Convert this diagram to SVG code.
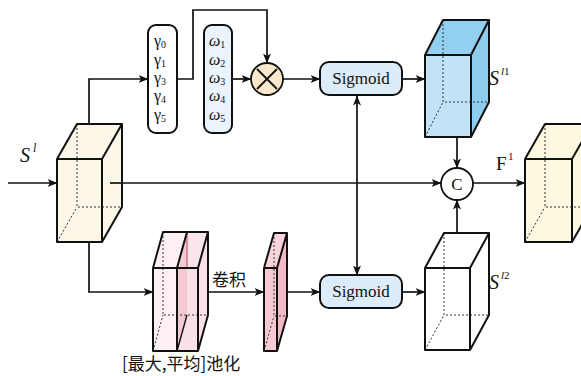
<svg xmlns="http://www.w3.org/2000/svg" width="581" height="376" viewBox="0 0 581 376">
  <defs>
    <marker id="arr" viewBox="0 0 10 8" refX="9.5" refY="4" markerWidth="10" markerHeight="8" markerUnits="userSpaceOnUse" orient="auto-start-reverse">
      <path d="M0,0 L10,4 L0,8 L2.5,4 Z" fill="#111"/>
    </marker>
    <style>
      .ln { fill: none; stroke: #111; stroke-width: 1.7; }
      .edge { fill: none; stroke: #111; stroke-width: 2; stroke-linejoin: round; }
      .hid { fill: none; stroke: #333; stroke-width: 1; stroke-dasharray: 2 2; }
      .box { stroke: #111; stroke-width: 2; }
      .sub { font-size: 10px; }
    </style>
  </defs>

  <rect width="581" height="376" fill="#ffffff"/>

  <!-- connectors -->
  <g id="connectors">
    <line class="ln" x1="8" y1="183" x2="57" y2="183" marker-end="url(#arr)"/>
    <line class="ln" x1="110" y1="183" x2="441" y2="183" marker-end="url(#arr)"/>
    <polyline class="ln" points="89,124 89,79 148,79" marker-end="url(#arr)"/>
    <polyline class="ln" points="89,242 89,292 153,292" marker-end="url(#arr)"/>
    <polyline class="ln" points="177,79 193,79 193,10 267,10 267,63" marker-end="url(#arr)"/>
    <line class="ln" x1="232" y1="79" x2="251" y2="79" marker-end="url(#arr)"/>
    <line class="ln" x1="283" y1="79" x2="320" y2="79" marker-end="url(#arr)"/>
    <line class="ln" x1="402" y1="79" x2="425" y2="79" marker-end="url(#arr)"/>
    <line class="ln" x1="357" y1="96" x2="357" y2="275" marker-start="url(#arr)" marker-end="url(#arr)"/>
    <line class="ln" x1="457" y1="137" x2="457" y2="168" marker-end="url(#arr)"/>
    <line class="ln" x1="457" y1="233" x2="457" y2="200" marker-end="url(#arr)"/>
    <line class="ln" x1="473" y1="183" x2="525" y2="183" marker-end="url(#arr)"/>
    <line class="ln" x1="198" y1="292" x2="264" y2="292" marker-end="url(#arr)"/>
    <line class="ln" x1="277" y1="292" x2="320" y2="292" marker-end="url(#arr)"/>
    <line class="ln" x1="402" y1="292" x2="425" y2="292" marker-end="url(#arr)"/>
  </g>

  <!-- input feature map -->
  <g id="input-cube">
    <rect x="57" y="159" width="45" height="83" fill="#fdf7ea"/>
    <polygon points="57,159 77,124 122,124 102,159" fill="#fdf7ea"/>
    <polygon points="102,159 122,124 122,207 102,242" fill="#fdf7ea"/>
    <path class="hid" d="M77,124 V207 H122 M57,242 L77,207"/>
    <path class="edge" d="M57,159 H102 V242 H57 Z M57,159 L77,124 H122 L102,159 M122,124 V207 L102,242"/>
    <line class="ln" x1="110" y1="183" x2="122" y2="183"/>
  </g>
  <g id="label-input" font-family="Liberation Serif, serif" fill="#111" font-style="italic">
    <text x="20" y="162" font-size="20">S</text>
    <text x="33" y="152" font-size="12">l</text>
  </g>

  <!-- gamma coefficients -->
  <g id="gamma-box">
    <rect class="box" x="148" y="25" width="29" height="108" rx="8" fill="#ffffff"/>
    <g font-family="Liberation Serif, serif" fill="#111" font-size="16">
      <text x="154" y="46">γ<tspan class="sub" dy="2">0</tspan></text>
      <text x="154" y="65">γ<tspan class="sub" dy="2">1</tspan></text>
      <text x="154" y="83">γ<tspan class="sub" dy="2">3</tspan></text>
      <text x="154" y="101">γ<tspan class="sub" dy="2">4</tspan></text>
      <text x="154" y="120">γ<tspan class="sub" dy="2">5</tspan></text>
    </g>
  </g>

  <!-- omega weights -->
  <g id="omega-box">
    <rect class="box" x="204" y="25" width="28" height="108" rx="8" fill="#ebf4fc"/>
    <g font-family="Liberation Serif, serif" fill="#111" font-size="16" font-style="italic">
      <text x="209" y="46">ω<tspan class="sub" dy="2" font-style="normal">1</tspan></text>
      <text x="209" y="65">ω<tspan class="sub" dy="2" font-style="normal">2</tspan></text>
      <text x="209" y="83">ω<tspan class="sub" dy="2" font-style="normal">3</tspan></text>
      <text x="209" y="101">ω<tspan class="sub" dy="2" font-style="normal">4</tspan></text>
      <text x="209" y="120">ω<tspan class="sub" dy="2" font-style="normal">5</tspan></text>
    </g>
  </g>

  <!-- multiplication -->
  <g id="multiply">
    <circle cx="267" cy="79" r="16" fill="#fbe8cc" stroke="#111" stroke-width="1.8"/>
    <path d="M257,69 L277,89 M277,69 L257,89" stroke="#111" stroke-width="1.8"/>
  </g>

  <!-- sigmoid blocks -->
  <g id="sigmoid-top">
    <rect class="box" x="320" y="62" width="82" height="33" rx="9" fill="#ddecf9"/>
    <text x="361" y="84" font-family="Liberation Serif, serif" fill="#111" font-size="17" text-anchor="middle">Sigmoid</text>
  </g>
  <g id="sigmoid-bottom">
    <rect class="box" x="320" y="275" width="82" height="33" rx="9" fill="#ddecf9"/>
    <text x="361" y="297" font-family="Liberation Serif, serif" fill="#111" font-size="17" text-anchor="middle">Sigmoid</text>
  </g>

  <!-- channel-weighted map -->
  <g id="cube-s1">
    <rect x="425" y="55" width="46" height="82" fill="#c2e2f7"/>
    <polygon points="425,55 443,20 489,20 471,55" fill="#93cff1"/>
    <polygon points="471,55 489,20 489,102 471,137" fill="#8ecdf0"/>
    <path class="hid" d="M443,20 V102 H489 M425,137 L443,102"/>
    <path class="edge" d="M425,55 H471 V137 H425 Z M425,55 L443,20 H489 L471,55 M489,20 V102 L471,137"/>
  </g>
  <g id="label-s1" font-family="Liberation Serif, serif" fill="#111" font-style="italic">
    <text x="489" y="85" font-size="20">S</text>
    <text x="501" y="75" font-size="11">l<tspan font-style="normal">1</tspan></text>
  </g>

  <!-- spatially weighted map -->
  <g id="cube-s2">
    <rect x="425" y="268" width="45" height="82" fill="#ffffff"/>
    <polygon points="425,268 444,233 489,233 470,268" fill="#ffffff"/>
    <polygon points="470,268 489,233 489,315 470,350" fill="#ffffff"/>
    <path class="hid" d="M444,233 V315 H489 M425,350 L444,315"/>
    <path class="edge" d="M425,268 H470 V350 H425 Z M425,268 L444,233 H489 L470,268 M489,233 V315 L470,350"/>
  </g>
  <g id="label-s2" font-family="Liberation Serif, serif" fill="#111" font-style="italic">
    <text x="489" y="289" font-size="20">S</text>
    <text x="501" y="279" font-size="11">l<tspan font-style="normal">2</tspan></text>
  </g>

  <!-- concatenation -->
  <g id="concat">
    <circle cx="457" cy="184" r="16" fill="#ffffff" stroke="#111" stroke-width="1.8"/>
    <text x="457" y="190" font-family="Liberation Serif, serif" fill="#111" font-size="17" text-anchor="middle">C</text>
  </g>

  <!-- output feature map -->
  <g id="output-cube">
    <rect x="525" y="159" width="47" height="83" fill="#fdf9e0"/>
    <polygon points="525,159 545,124 592,124 572,159" fill="#fdf9e0"/>
    <polygon points="572,159 592,124 592,207 572,242" fill="#fdf9e0"/>
    <path class="hid" d="M545,124 V207 H592 M525,242 L545,207"/>
    <path class="edge" d="M525,159 H572 V242 H525 Z M525,159 L545,124 H592 L572,159 M592,124 V207 L572,242"/>
  </g>
  <g id="label-f1" font-family="Liberation Serif, serif" fill="#111">
    <text x="496" y="170" font-size="19">F</text>
    <text x="508" y="160" font-size="11">1</text>
  </g>

  <!-- max / average pooling maps -->
  <g id="pooling">
    <rect x="153" y="268" width="24" height="83" fill="#fdf0f3"/>
    <polygon points="153,268 163,232 187,232 177,268" fill="#fdf0f3"/>
    <rect x="177" y="268" width="21" height="83" fill="#fae0e7"/>
    <polygon points="177,268 187,232 208,232 198,268" fill="#fbe4ea"/>
    <polygon points="198,268 208,232 208,315 198,351" fill="#fae0e7"/>
    <polygon points="177,268 187,232 187,315 177,351" fill="#f4c3d0" opacity="0.8"/>
    <path class="hid" d="M163,232 V315 H208 M153,351 L163,315"/>
    <path d="M187,232 V268" stroke="#c0405a" stroke-width="1"/>
    <path d="M177,351 L187,315" stroke="#111" stroke-width="1.4"/>
    <path class="edge" d="M153,268 H198 V351 H153 Z M153,268 L163,232 H208 L198,268 M208,232 V315 L198,351 M177,268 V351 M177,268 L187,232"/>
  </g>
  <g id="label-pooling">
    <text x="122" y="370" font-family="Noto Sans CJK SC, sans-serif" fill="#111" font-size="17">[最大,平均]池化</text>
  </g>

  <!-- convolution output -->
  <g id="conv-slab">
    <rect x="264" y="268" width="13" height="83" fill="#f6c9d4"/>
    <polygon points="264,268 274,233 287,233 277,268" fill="#f8d3dc"/>
    <polygon points="277,268 287,233 287,316 277,351" fill="#f2b9c7"/>
    <path class="hid" d="M274,233 V316 H287 M264,351 L274,316"/>
    <path class="edge" d="M264,268 H277 V351 H264 Z M264,268 L274,233 H287 L277,268 M287,233 V316 L277,351"/>
  </g>
  <g id="label-conv">
    <text x="212" y="286" font-family="Noto Sans CJK SC, sans-serif" fill="#111" font-size="17">卷积</text>
  </g>
</svg>
